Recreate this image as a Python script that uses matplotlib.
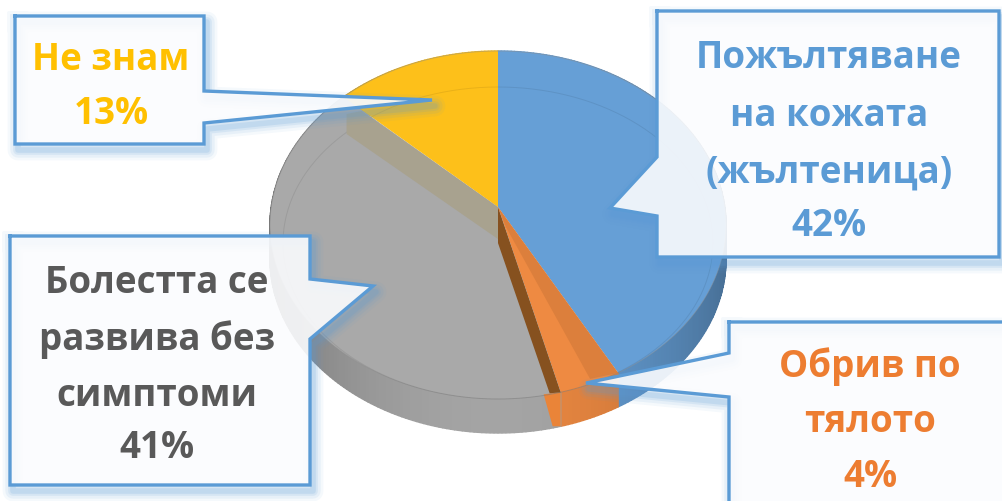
import numpy as np
import matplotlib
matplotlib.use("Agg")
import matplotlib.pyplot as plt
from matplotlib.colors import to_rgb

values = [42, 4, 41, 13]
slice_colors = ["#669fd6", "#ee8a42", "#a9a9a9", "#fdc01a"]
text_colors = ["#5b9bd5", "#ed7d31", "#595959", "#ffc000"]
label_lines = [
    ["Пожълтяване", "на кожата", "(жълтеница)"],
    ["Обрив по", "тялото"],
    ["Болестта се", "развива без", "симптоми"],
    ["Не знам"],
]

# layout in pixels
CX, CY, RX, RY = 498, 226, 228, 174
TILT = 0.103
DEPTH = 34
BORDER = "#5b9bd5"
text_x = [829, 870, 157, 111]
text_y = [[54, 112, 168, 222], [362, 418, 473], [279, 335, 392, 444], [56, 110]]
box_blue = [(657, 12), (999, 12), (999, 258), (657, 258), (657, 217), (610, 209), (657, 158)]
box_orange = [(729, 323), (1010, 323), (1010, 510), (729, 510), (729, 398), (586, 384), (729, 354)]
box_gray = [(10, 237), (310, 237), (310, 280), (373, 287), (310, 340), (310, 486), (10, 486)]
box_yellow = [(15, 17), (204, 17), (204, 92), (432, 101), (204, 124), (204, 145), (15, 145)]


def project(angle, r=1.0):
    # angle in percent, clockwise from the top; tilted disc seen from above
    t = np.radians(np.asarray(angle) * 3.6)
    u, v = r * np.sin(t), r * np.cos(t)
    w = 1 + TILT * v
    x = CX + RX * u * np.sqrt(1 - TILT ** 2) / w
    y = CY - RY * (v + TILT) / w
    return x, y


def shade(color, f):
    return tuple(min(1, c * f) for c in to_rgb(color))


def callout(ax, pts):
    xs = [p[0] for p in pts]
    ys = [p[1] for p in pts]
    sx = [x + 3 for x in xs + xs[:1]]
    sy = [y + 6 for y in ys + ys[:1]]
    for lw, a in [(15, 0.06), (11, 0.09), (7, 0.12), (4, 0.16)]:
        ax.plot(sx, sy, color=BORDER, lw=lw, alpha=a, solid_joinstyle="round", zorder=5)
    ax.fill(xs, ys, facecolor="#fbfcfe", edgecolor="none", alpha=0.9, zorder=6)
    ax.plot(xs + xs[:1], ys + ys[:1], color=BORDER, lw=2.4, solid_joinstyle="miter", zorder=7)


fig = plt.figure(figsize=(10.02, 5.02), dpi=100)
ax = fig.add_axes([0, 0, 1, 1])
ax.set_xlim(0, 1002)
ax.set_ylim(502, 0)
ax.axis("off")

edges = np.concatenate([[0], np.cumsum(values)])

# side wall, split in small pieces to get the shading
for i, col in enumerate(slice_colors):
    steps = np.arange(edges[i], edges[i + 1] + 0.25, 0.25)
    for a, b in zip(steps[:-1], steps[1:]):
        x0, y0 = project(a)
        x1, y1 = project(b)
        f = 0.97 - 0.28 * abs(np.sin(np.radians(a * 3.6))) ** 2
        c = shade(col, f)
        ax.fill([x0, x1, x1, x0], [y0, y1, y1 + DEPTH, y0 + DEPTH], facecolor=c, edgecolor=c, lw=1.0, zorder=1)

# top face
for i, col in enumerate(slice_colors):
    arc = np.linspace(edges[i], edges[i + 1], 120)
    x, y = project(arc)
    ax.fill(np.r_[CX, x], np.r_[project(0, 0)[1], y], facecolor=col, edgecolor="none", zorder=2)

# outline of the disc
arc = np.linspace(0, 100, 400)
x, y = project(arc)
ax.plot(x, y, color="#8f8f8f", lw=0.6, alpha=0.5, zorder=3)

# inner bevel line
t = np.linspace(0, 2 * np.pi, 300)
ax.plot(498 + 215 * np.cos(t), 244 + 156 * np.sin(t), color="#000000", lw=0.7, alpha=0.08, zorder=3)

# faces of the cut: tan band under the yellow slice, brown and dark orange in the orange slice
ye_x, ye_y = project(edges[3])
apex_x, apex_y = project(0, 0)
ax.fill([apex_x, ye_x + 18, ye_x + 3, ye_x + 3, apex_x],
        [apex_y, ye_y + 14, ye_y + 17, ye_y + 37, apex_y + 32],
        color="#a8a28f", lw=0, zorder=3)
or_x, or_y = project(edges[2])
bl_x, bl_y = project(edges[1])
ax.fill([apex_x, or_x, or_x - 11, apex_x], [apex_y, or_y, or_y + 1, apex_y + 36],
        color="#86511f", lw=0, zorder=3)
ax.fill([apex_x, bl_x, bl_x - 28, apex_x + 8], [apex_y, bl_y, bl_y + 6, apex_y + 20],
        color="#dc7f3c", lw=0, zorder=3)
# orange wall reaches a bit further left than the rim
ax.fill([or_x - 17, or_x, or_x, or_x - 8], [or_y + 2, or_y, or_y + DEPTH, or_y + DEPTH],
        color="#ea8438", lw=0, zorder=2)

callout(ax, box_blue)
callout(ax, box_orange)
callout(ax, box_gray)
callout(ax, box_yellow)

for i, lines in enumerate(label_lines):
    rows = lines + [f"{values[i]}%"]
    for row, yy in zip(rows, text_y[i]):
        ax.text(text_x[i], yy, row, color=text_colors[i], fontsize=26.5, fontweight="bold",
                family="Open Sans", ha="center", va="center_baseline", zorder=8)

fig.savefig("out.png", dpi=100)
